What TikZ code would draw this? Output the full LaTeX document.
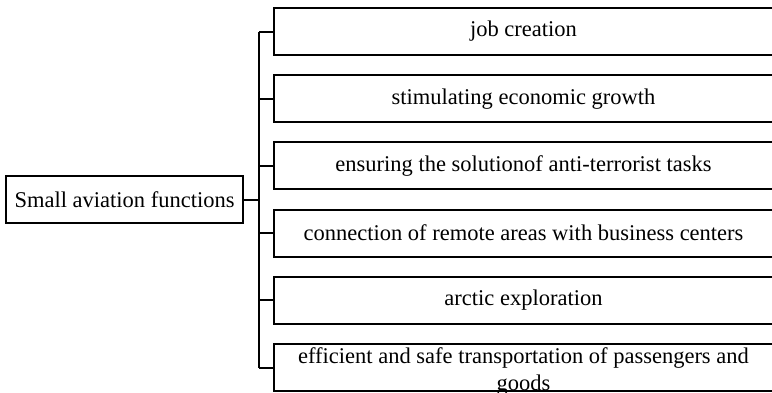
\documentclass[tikz,border=0pt]{standalone}
\usepackage{fontspec}
\setmainfont{Liberation Serif}
\begin{document}
\begin{tikzpicture}[x=1pt,y=-1pt,
  box/.style={draw=black, line width=2pt, fill=white, inner sep=0pt, font=\fontsize{22.5}{26}\selectfont, align=center},
  leaf/.style={box, minimum width=499pt, minimum height=47pt},
  conn/.style={draw=black, line width=2pt}]
\useasboundingbox (0,0) rectangle (772,392);
\clip (0,0) rectangle (772,392);
\node[box, minimum width=237pt, minimum height=47pt] (root) at (124.5,199.5) {Small aviation functions};
\node[leaf] (b1) at (523.5,31.5) {job creation};
\node[leaf] (b2) at (523.5,98.7) {stimulating economic growth};
\node[leaf] (b3) at (523.5,165.9) {ensuring the solutionof anti-terrorist tasks};
\node[leaf] (b4) at (523.5,233.1) {connection of remote areas with business centers};
\node[leaf] (b5) at (523.5,300.3) {arctic exploration};
\node[leaf] (b6) at (523.5,367.5) {};
\node[font=\fontsize{22.5}{27}\selectfont, align=center, inner sep=0pt] (b6t) at (523.5,371) {efficient and safe transportation of passengers and\\goods};
\coordinate (bus) at (259,0);
\draw[conn] (b1.west -| bus) -- (b6.west -| bus);
\draw[conn] (root.east) -- (root.east -| bus);
\foreach \n in {b1,b2,b3,b4,b5,b6}{
  \draw[conn] (\n.west -| bus) -- (\n.west);
}
\end{tikzpicture}
\end{document}
